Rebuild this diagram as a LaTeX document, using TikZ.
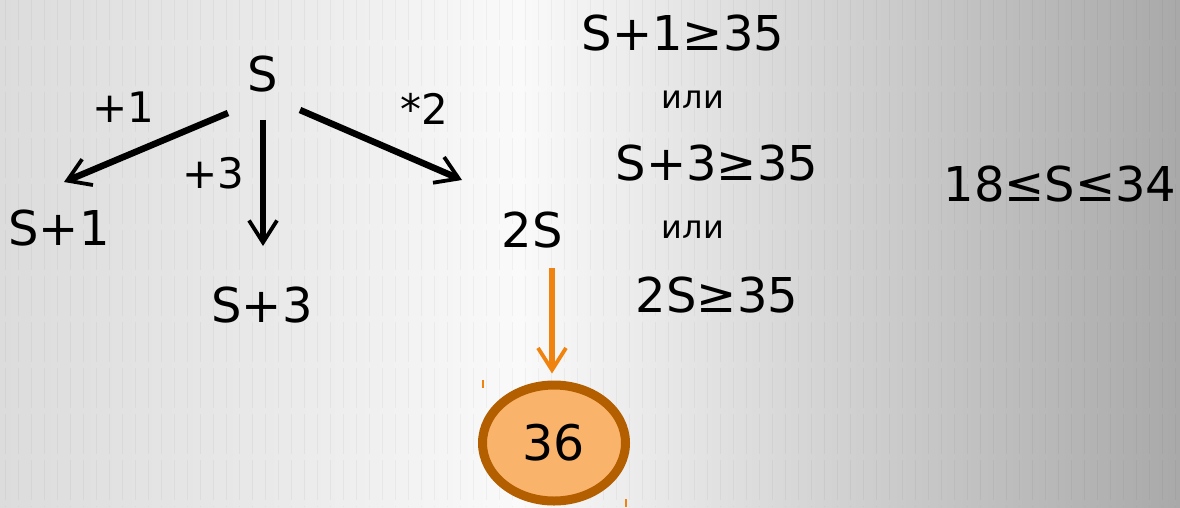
\documentclass[tikz,border=0pt]{standalone}
\usepackage{fontspec}
\setmainfont{DejaVu Sans}
\usetikzlibrary{arrows.meta,shapes.geometric}

\definecolor{bgL}{HTML}{DCDCDC}
\definecolor{bgA}{HTML}{EAEAEA}
\definecolor{bgM}{HTML}{FAFAFA}
\definecolor{bgB}{HTML}{D6D6D6}
\definecolor{bgC}{HTML}{BFBFBF}
\definecolor{bgR}{HTML}{A9A9A9}
\definecolor{arrowOrange}{HTML}{F0820F}
\definecolor{ringBrown}{HTML}{B35F00}
\definecolor{ringFill}{HTML}{F9B36A}

\pgfdeclarehorizontalshading{slidebg}{100bp}{color(0bp)=(bgL); color(25bp)=(bgL); color(37bp)=(bgA); color(47bp)=(bgM); color(59bp)=(bgB); color(67bp)=(bgC); color(75bp)=(bgR); color(100bp)=(bgR)}

\tikzset{
  big/.style={font=\fontsize{48}{52}\selectfont, inner sep=0pt, anchor=base},
  oplabel/.style={font=\fontsize{42}{46}\selectfont, inner sep=0pt, anchor=base},
  small/.style={font=\fontsize{32}{35}\selectfont, inner sep=0pt, anchor=base},
  arr/.style={line width=6.5pt, -{Straight Barb[length=22pt,width=28pt,line width=3.8pt]}},
  orangearr/.style={draw=arrowOrange, line width=6.5pt, -{Straight Barb[length=22pt,width=28pt,line width=3.8pt]}},
  result/.style={ellipse, draw=ringBrown, line width=9pt, fill=ringFill,
    minimum width=143pt, minimum height=116pt, inner sep=0pt,
    font=\fontsize{49}{52}\selectfont},
}

\begin{document}
\begin{tikzpicture}[x=1pt, y=-1pt]
  \useasboundingbox (0,0) rectangle (1180,507);
  % slide background with faint vertical streaks
  \shade[shading=slidebg] (0,0) rectangle (1180,507);
  \foreach \x in {5,18,...,1180}
    \draw[black, opacity=0.04, line width=0.8pt, dash pattern=on 40pt off 6pt] (\x,0) -- (\x,507);

  % tree of operations
  \node[big] (S) at (263,91) {S};
  \node[big] (S1) at (59,245) {S+1};
  \node[big] (S3) at (262,322) {S+3};
  \node[big] (S2) at (532,247) {2S};

  \node[oplabel] (l1) at (123,122) {+1};
  \node[oplabel] (l3) at (213,188) {+3};
  \node[oplabel] (l2) at (424,124) {*2};

  \coordinate (a1s) at (228,113);
  \coordinate (a1e) at (64,182);
  \coordinate (a3s) at (263,120);
  \coordinate (a3e) at (263,246);
  \coordinate (a2s) at (300,110);
  \coordinate (a2e) at (462,180);
  \draw[arr] (a1s) -- (a1e);
  \draw[arr] (a3s) -- (a3e);
  \draw[arr] (a2s) -- (a2e);

  % winning value
  \node[result] (c36) at (554,443) {36};
  \coordinate (o1) at (552,268);
  \coordinate (o2) at ([yshift=7pt]c36.north);
  \draw[orangearr] (o1) -- (o1 |- o2);
  \draw[arrowOrange, line width=1.6pt] (483,380) -- (483,388);
  \draw[arrowOrange, line width=1.6pt] (626,499) -- (626,507);

  % conditions
  \node[big] (c1) at (683,50) {S+1≥35};
  \node[small] (or1) at (693,108) {или};
  \node[big] (c2) at (717,180) {S+3≥35};
  \node[small] (or2) at (693,238) {или};
  \node[big] (c3) at (717,312) {2S≥35};
  \node[big] (ans) at (1060,201) {18≤S≤34};
\end{tikzpicture}
\end{document}
